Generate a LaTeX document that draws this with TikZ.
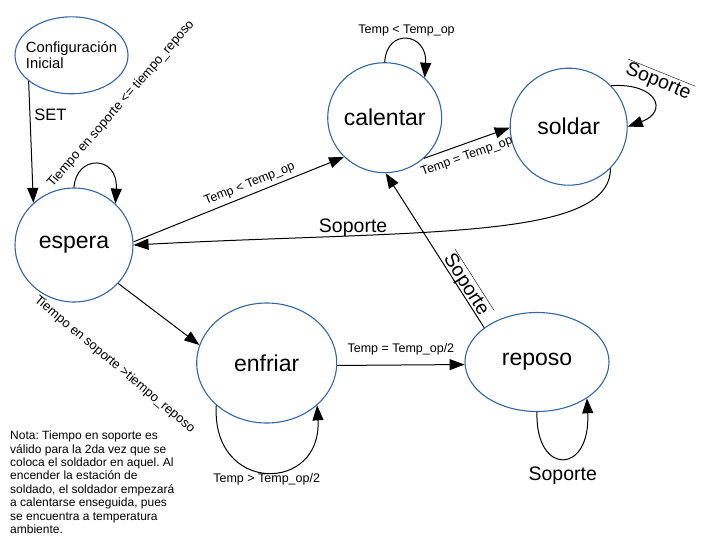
\documentclass[tikz,border=0pt]{standalone}
\usepackage{fontspec}
\setmainfont{Liberation Sans}
\usetikzlibrary{positioning,shapes.geometric,arrows.meta}

\definecolor{stateblue}{RGB}{52,101,164}

\tikzset{
  state/.style={ellipse, draw=stateblue, line width=1.1pt, inner sep=-6pt,
    font=\fontsize{23}{27}\selectfont},
  trans/.style={-{Triangle[length=15pt,width=11pt]}, line width=1pt},
  lbl/.style={inner sep=1pt, font=\fontsize{12.5}{15}\selectfont},
  biglbl/.style={inner sep=1pt, font=\fontsize{19.5}{23}\selectfont},
}

\begin{document}
\frenchspacing
\begin{tikzpicture}[x=1pt, y=1pt]
\useasboundingbox (0,0) rectangle (707,-541);

% Start state
\node[state, align=left, minimum width=113, minimum height=77,
  font=\fontsize{14.75}{16.5}\selectfont] (conf) at (71.5,-55.3) {Configuración\\Inicial};

% States
\foreach \name/\x/\y/\w/\h in {
    espera/74/-245/118/114,
    calentar/384.7/-117.7/114/110,
    soldar/568.7/-126.7/117/117,
    enfriar/266.7/-363/140/120,
    reposo/537/-362/144/99
  }
{
  \node[state, minimum width=\w, minimum height=\h] (\name) at (\x,\y) {\name};
}

% Transitions
\draw[trans] (conf.211) -- node[lbl, right=3pt, pos=0.28, font=\fontsize{16.5}{19}\selectfont] {SET} (espera.134);

\draw[trans] (espera.90) .. controls +(2,33) and +(3,49) .. (espera.45);
\node[lbl, rotate=49, font=\fontsize{13}{15}\selectfont] (esperaLbl) at (121,-104) {Tiempo en soporte <= tiempo\_reposo};

\draw[trans] (espera.3) -- node[lbl, sloped, above=3pt, pos=0.57] {Temp < Temp\_op} (calentar.224);

\draw[trans] (calentar.90) .. controls +(2,35) and +(3,45) .. node[lbl, pos=0.5, above=2pt] {Temp < Temp\_op} (calentar.45);

\draw[trans] (calentar.-46) -- node[lbl, sloped, below=6pt, pos=0.45] {Temp = Temp\_op} (soldar.181);

\draw[trans] (soldar.44) .. controls +(46,3) and +(41,15) .. (soldar.0);
\node[biglbl, inner xsep=2pt, rotate=-22] (soldarLbl) at (658,-82) {Soporte};
\draw (soldarLbl.north west) -- (soldarLbl.north east);

\draw[trans] (soldar.-45) .. controls +(0,-72) and +(287,15) .. node[biglbl, pos=0.715, above=-2pt] {Soporte} (espera.0);

\draw[trans] (reposo.147) -- node[biglbl, inner xsep=2pt, sloped, above=-3pt, pos=0.25] (reposoLbl) {Soporte} (calentar.271);
\draw (reposoLbl.north west) -- (reposoLbl.north east);

\draw[trans] (espera.-41) -- (enfriar.165);
\node[lbl, rotate=-40, font=\fontsize{13}{15}\selectfont] (enfriarLbl) at (114.5,-364.5) {Tiempo en soporte >tiempo\_reposo};

\draw[trans] (enfriar.220) .. controls +(-5,-89) and +(5,-88) .. node[lbl, pos=0.5, below] {Temp > Temp\_op/2} (enfriar.320);

\draw[trans] (enfriar.-2) -- node[lbl, above=8pt] {Temp = Temp\_op/2} (reposo.182);

\draw[trans] (reposo.270) .. controls +(-2,-64) and +(4,-77) .. node[biglbl, pos=0.5, below=7pt] {Soporte} (reposo.-36);

% Note
\node[anchor=north west, align=left, inner sep=0pt, font=\fontsize{12}{13.4}\selectfont] (nota) at (10,-430.7) {Nota: Tiempo en soporte es\\válido para la 2da vez que se\\coloca el soldador en aquel. Al\\encender la estación de\\soldado, el soldador empezará\\a calentarse enseguida, pues\\se encuentra a temperatura\\ambiente.};

\end{tikzpicture}
\end{document}
